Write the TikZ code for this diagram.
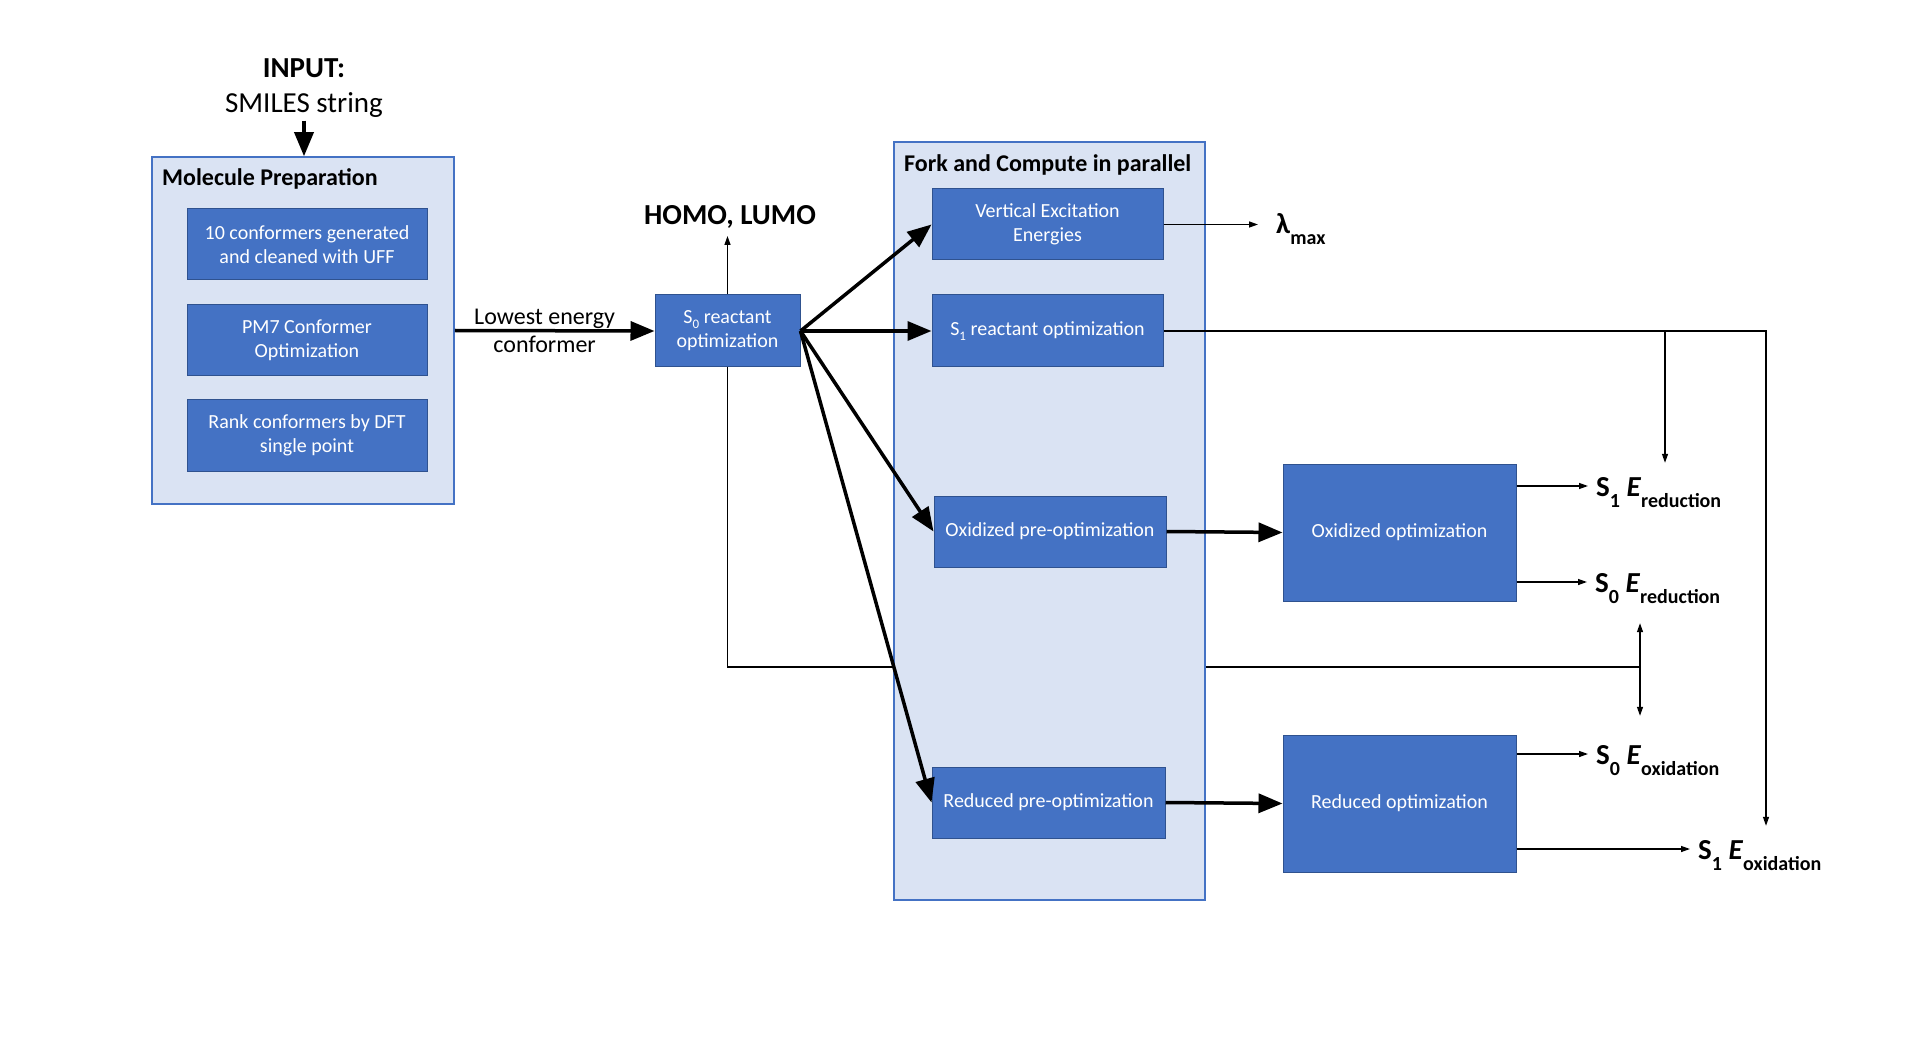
\documentclass[tikz,border=0pt]{standalone}
\usepackage{fontspec}
\setmainfont{Carlito}
\usetikzlibrary{arrows.meta}
\definecolor{boxblue}{HTML}{4472C4}
\definecolor{boxedge}{HTML}{2F528F}
\definecolor{panelblue}{HTML}{DAE3F3}
\newcommand{\dropsub}[1]{\raisebox{-11pt}{\fontsize{20}{20}\selectfont #1}}
\newcommand{\boxsub}[1]{\raisebox{-5pt}{\fontsize{13}{13}\selectfont #1}}
\tikzset{
	taskbox/.style={draw=boxedge, line width=1pt, fill=boxblue, text=white, align=center, font=\fontsize{20}{24}\selectfont, inner sep=0pt, minimum height=71pt},
	panel/.style={draw=boxblue, line width=1.5pt, fill=panelblue, inner sep=0pt},
	paneltitle/.style={anchor=west, font=\fontsize{24}{28}\selectfont\bfseries, inner sep=0pt},
	bigarrow/.style={line width=3.5pt, -{Triangle[length=24pt,width=19pt]}},
	thinarrow/.style={line width=1.3pt, -{Triangle[length=9pt,width=6pt]}},
	result/.style={anchor=west, font=\fontsize{29}{34}\selectfont\bfseries, text height=20pt, text depth=0pt, inner xsep=8pt, inner ysep=13pt}
}

\begin{document}
\begin{tikzpicture}[x=1pt, y=-1pt]
	\useasboundingbox (0,0) rectangle (1920,1056);

	%input
	\node[align=center, font=\fontsize{29}{35}\selectfont, inner sep=3pt] (input) at (304,88) {\textbf{INPUT:}\\SMILES string};

	%molecule preparation
	\node[panel, minimum width=302pt, minimum height=347pt] (prep) at (303,330.5) {};
	\node[paneltitle] (preptitle) at (162,178.5) {Molecule Preparation};
	\node[taskbox, minimum width=240pt] (conf) at (307,244.5) {10 conformers generated\\and cleaned with UFF};
	\node[taskbox, minimum width=240pt] (pm7) at (307,340.5) {PM7 Conformer\\Optimization};
	\node[taskbox, minimum width=240pt] (rank) at (307,435.5) {Rank conformers by DFT\\single point};
	\draw[bigarrow] (input.south) -- (input.south |- prep.north);

	%ground state
	\node[taskbox, minimum width=145pt, minimum height=72pt] (s0) at (727.5,331) {S\boxsub{0} reactant\\optimization};
	\draw[bigarrow] (prep.east) -- node[pos=0.45, align=center, font=\fontsize{24}{28}\selectfont] (lowest) {Lowest energy\\conformer} (s0.west);
	\node[anchor=south, font=\fontsize{29}{34}\selectfont\bfseries, inner ysep=7pt] (homo) at (730,236) {HOMO, LUMO};
	\draw[thinarrow] (s0.north) -- (s0.north |- homo.south);
	\coordinate (split) at (1640,667);
	\draw[line width=1.3pt] (s0.south) |- (split);

	%parallel branch
	\node[panel, minimum width=311pt, minimum height=758pt] (fork) at (1049.5,521) {};
	\node[paneltitle] (forktitle) at (904,164.5) {Fork and Compute in parallel};
	\node[taskbox, minimum width=231pt] (vee) at (1047.5,224.5) {Vertical Excitation\\Energies};
	\node[taskbox, minimum width=231pt, minimum height=72pt] (s1) at (1047.5,331) {S\boxsub{1} reactant optimization};
	\node[taskbox, minimum width=232pt] (oxpre) at (1050,531.5) {Oxidized pre-optimization};
	\node[taskbox, minimum width=233pt] (redpre) at (1048.5,802.5) {Reduced pre-optimization};
	\draw[bigarrow] (s0.east) -- (vee.west);
	\draw[bigarrow] (s0.east) -- (s1.west);
	\draw[bigarrow] (s0.east) -- (oxpre.west);
	\draw[bigarrow] (s0.east) -- (redpre.west);

	%charged states
	\node[taskbox, minimum width=233pt, minimum height=137pt] (oxopt) at (1399.5,532.5) {Oxidized optimization};
	\node[taskbox, minimum width=233pt, minimum height=137pt] (redopt) at (1399.5,803.5) {Reduced optimization};
	\draw[bigarrow] (oxpre.east) -- (oxopt.west);
	\draw[bigarrow] (redpre.east) -- (redopt.west);

	%outputs
	\node[result, inner xsep=18pt] (lmax) at (1258,224) {λ\dropsub{max}};
	\node[result] (s1red) at (1588,486) {S\dropsub{1} \textit{E}\dropsub{reduction}};
	\node[result] (s0red) at (1587,582) {S\dropsub{0} \textit{E}\dropsub{reduction}};
	\node[result] (s0ox) at (1588,754) {S\dropsub{0} \textit{E}\dropsub{oxidation}};
	\node[result] (s1ox) at (1690,849) {S\dropsub{1} \textit{E}\dropsub{oxidation}};
	\draw[thinarrow] (vee.east) -- (vee.east -| lmax.west);
	\draw[thinarrow] (oxopt.east |- s1red.west) -- (s1red.west);
	\draw[thinarrow] (oxopt.east |- s0red.west) -- (s0red.west);
	\draw[thinarrow] (redopt.east |- s0ox.west) -- (s0ox.west);
	\draw[thinarrow] (redopt.east |- s1ox.west) -- (s1ox.west);

	%excited state lines
	\coordinate (s1branch) at (1665,331);
	\coordinate (s1turn) at (1766,331);
	\draw[thinarrow] (s1.east) -- (s1turn) -- (s1turn |- s1ox.north);
	\draw[thinarrow] (s1branch) -- (s1branch |- s1red.north);
	\draw[thinarrow, shorten >=18pt] (split) -- (split |- s0red.south);
	\draw[thinarrow, shorten >=15pt] (split) -- (split |- s0ox.north);
\end{tikzpicture}
\end{document}
